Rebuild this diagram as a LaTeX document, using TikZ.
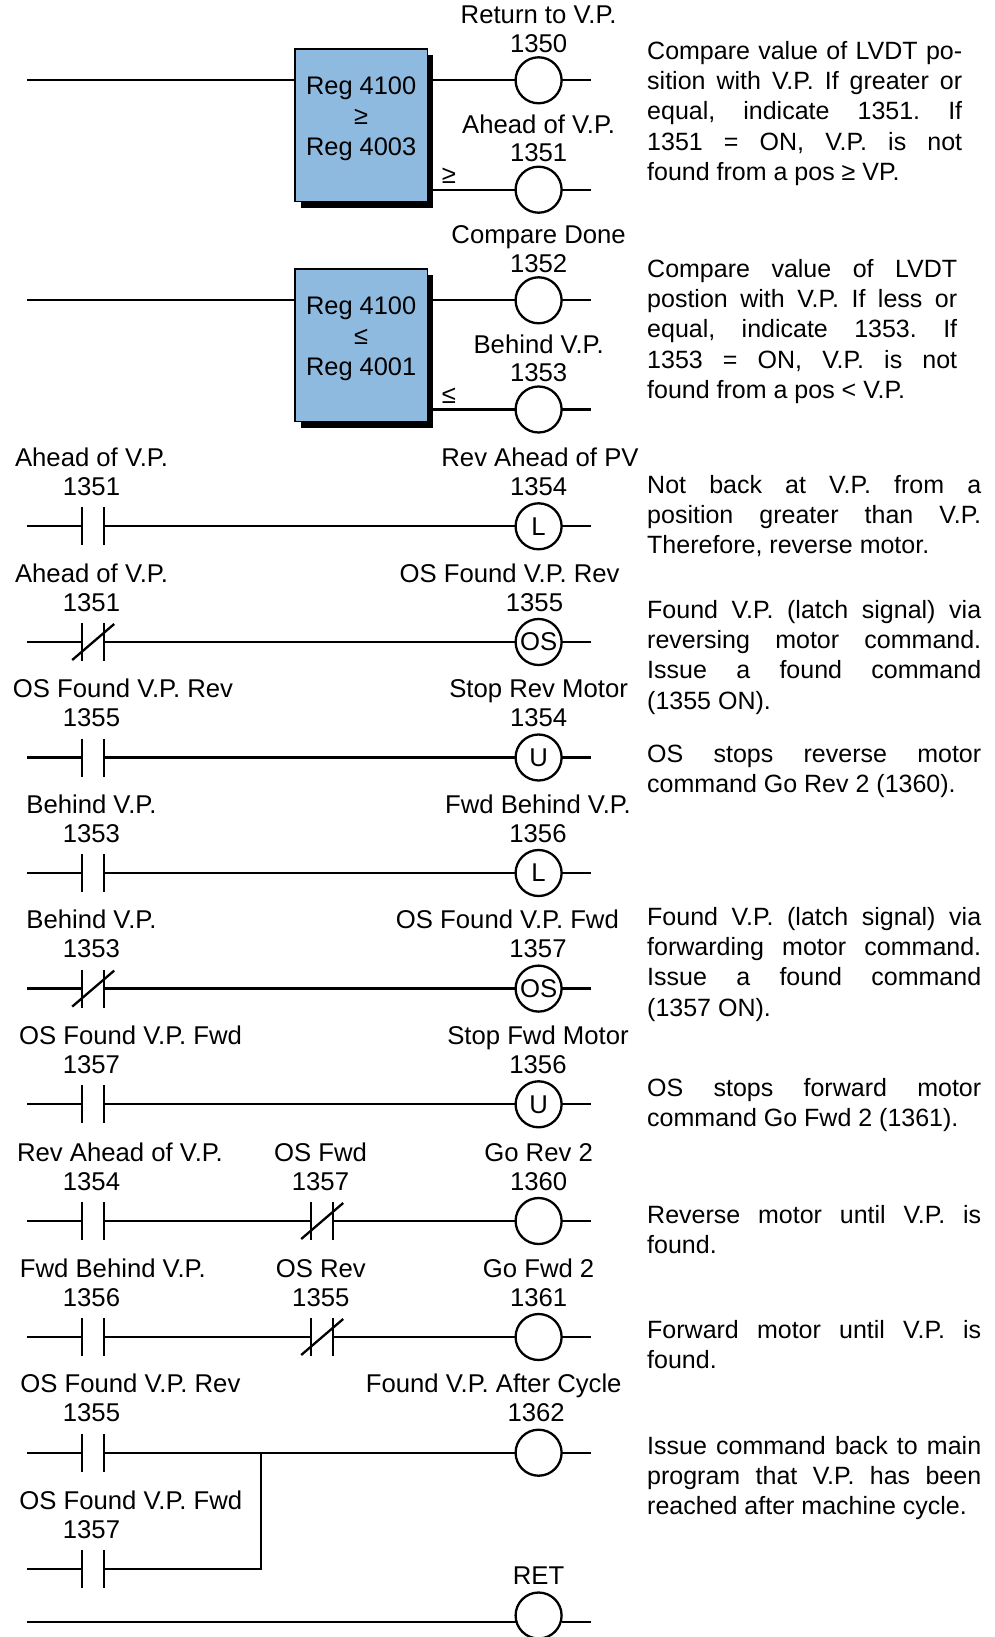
\documentclass[tikz,border=0pt]{standalone}
\usepackage{fontspec}
\setmainfont{Liberation Sans}
\usetikzlibrary{shadows,calc}
\definecolor{regblue}{RGB}{143,186,224}

\begin{document}
\begin{tikzpicture}[
    x=1pt, y=-1pt,
    wire/.style={line width=2.3pt},
    contact/.style={minimum width=22pt, minimum height=38pt, inner sep=0pt, outer sep=0pt,
                    append after command={(\tikzlastnode.north west) edge[wire] (\tikzlastnode.south west)
                    (\tikzlastnode.north east) edge[wire] (\tikzlastnode.south east)}},
    nccontact/.style={contact,
                    append after command={([shift={(-21,18)}]\tikzlastnode.center) edge[wire] ([shift={(21,-18)}]\tikzlastnode.center)}},
    coil/.style={draw, circle, line width=2.3pt, minimum size=46pt, inner sep=0pt, outer sep=0pt, font=\fontsize{25.7}{28}\selectfont},
    regbox/.style={draw, line width=1.5pt, fill=regblue, minimum width=132.5pt, minimum height=152.5pt, inner sep=0pt,
                   drop shadow={shadow xshift=6pt, shadow yshift=-6pt, fill=black, opacity=1}},
    regtext/.style={anchor=north, inner sep=0pt, align=center, font=\fontsize{25.4}{30.5}\selectfont},
    lab/.style={anchor=base, inner sep=0pt, font=\fontsize{25.7}{28}\selectfont},
    desc/.style={anchor=north west, inner sep=0pt, text width=334pt, align=justify,
                 font=\fontsize{25}{30.3}\selectfont,
                 execute at begin node={\tolerance=10000\relax\emergencystretch=50pt\relax\frenchspacing}}
]
    \useasboundingbox (0,0) rectangle (994,1637);

    % compare blocks
    \node[regbox] (cmpa) at (361.2,125.3) {};
    \node[regtext] (cmpatxt) at (361.2,76.5) {Reg 4100\\≥\\Reg 4003};
    \node[regbox] (cmpb) at (361.2,345.3) {};
    \node[regtext] (cmpbtxt) at (361.2,296.5) {Reg 4100\\≤\\Reg 4001};

    % coils
    \node[coil] (q50) at (538.6,80.3) {};
    \node[coil] (q51) at (538.6,189.7) {};
    \node[coil] (q52) at (538.6,300.3) {};
    \node[coil] (q53) at (538.6,409.5) {};
    \node[coil] (q54l) at (538.6,526.3) {L};
    \node[coil] (q55) at (538.6,642) {OS};
    \node[coil] (q54u) at (538.6,757.5) {U};
    \node[coil] (q56l) at (538.6,873) {L};
    \node[coil] (q57) at (538.6,988.6) {OS};
    \node[coil] (q56u) at (538.6,1104.3) {U};
    \node[coil] (q60) at (538.6,1221) {};
    \node[coil] (q61) at (538.6,1337) {};
    \node[coil] (q62) at (538.6,1452.7) {};
    \node[coil] (qret) at (538.6,1615.5) {};

    % contacts
    \node[contact] (a51) at (93.2,526.3) {};
    \node[nccontact] (b51) at (93.2,642) {};
    \node[contact] (a55) at (93.2,757.5) {};
    \node[contact] (a53) at (93.2,873) {};
    \node[nccontact] (b53) at (93.2,988.6) {};
    \node[contact] (a57) at (93.2,1104.3) {};
    \node[contact] (a54) at (93.2,1221) {};
    \node[nccontact] (b57) at (322.2,1221) {};
    \node[contact] (a56) at (93.2,1337) {};
    \node[nccontact] (b55) at (322.2,1337) {};
    \node[contact] (c55) at (93.2,1452.7) {};
    \node[contact] (c57) at (93.2,1569) {};

    % free ends of the rungs
    \coordinate (sa) at (27,80.3);
    \coordinate (sb) at (27,300.3);
    \coordinate (s5) at (27,526.3);
    \coordinate (s6) at (27,642);
    \coordinate (s7) at (27,757.5);
    \coordinate (s8) at (27,873);
    \coordinate (s9) at (27,988.6);
    \coordinate (s10) at (27,1104.3);
    \coordinate (s11) at (27,1221);
    \coordinate (s12) at (27,1337);
    \coordinate (s13) at (27,1452.7);
    \coordinate (s14) at (27,1569);
    \coordinate (s15) at (27,1622.3);
    \coordinate (e15) at (590.5,1622.3);
    \coordinate (join) at (260.7,1452.7);

    \draw[wire] (sa) -- (sa -| cmpa.west);
    \draw[wire] (q50 -| cmpa.east) -- (q50) -- ++(52,0);
    \draw[wire] (q51 -| cmpa.east) -- (q51) -- ++(52,0);
    \draw[wire] (sb) -- (sb -| cmpb.west);
    \draw[wire] (q52 -| cmpb.east) -- (q52) -- ++(52,0);
    \draw[wire] (q53 -| cmpb.east) -- (q53) -- ++(52,0);
    \draw[wire] (s5) -- (a51) -- (q54l) -- ++(52,0);
    \draw[wire] (s6) -- (b51) -- (q55) -- ++(52,0);
    \draw[wire] (s7) -- (a55) -- (q54u) -- ++(52,0);
    \draw[wire] (s8) -- (a53) -- (q56l) -- ++(52,0);
    \draw[wire] (s9) -- (b53) -- (q57) -- ++(52,0);
    \draw[wire] (s10) -- (a57) -- (q56u) -- ++(52,0);
    \draw[wire] (s11) -- (a54) -- (b57) -- (q60) -- ++(52,0);
    \draw[wire] (s12) -- (a56) -- (b55) -- (q61) -- ++(52,0);
    \draw[wire] (s13) -- (c55) -- (q62) -- ++(52,0);
    \draw[wire] (s14) -- (c57) -- (c57 -| join) -- (join);
    \draw[wire] (s15) -- (s15 -| qret.west);
    \draw[wire] (s15 -| qret.east) -- (e15);

    % labels of the first rungs
    \node[lab] (gea) at (449,183.5) {≥};
    \node[lab] (leb) at (449,403.5) {≤};
    \node[lab] (t50) at (538.6,24) {Return to V.P.};
    \node[lab] (n50) at (538.6,52.5) {1350};
    \node[lab] (t51) at (538.6,133.9) {Ahead of V.P.};
    \node[lab] (n51) at (538.6,161.9) {1351};
    \node[lab] (t52) at (538.6,243.8) {Compare Done};
    \node[lab] (n52) at (538.6,272.3) {1352};
    \node[lab] (t53) at (538.6,353.7) {Behind V.P.};
    \node[lab] (n53) at (538.6,381.7) {1353};

    % labels of the coils
    \node[lab] (t54l) at (540,466) {Rev Ahead of PV};
    \node[lab] (n54l) at (538.6,495) {1354};
    \node[lab] (t55) at (509.6,582) {OS Found V.P. Rev};
    \node[lab] (n55) at (534.5,611) {1355};
    \node[lab] (t54u) at (538.6,697.5) {Stop Rev Motor};
    \node[lab] (n54u) at (538.6,726) {1354};
    \node[lab] (t56l) at (538,813) {Fwd Behind V.P.};
    \node[lab] (n56l) at (538,842) {1356};
    \node[lab] (t57) at (507.4,928.6) {OS Found V.P. Fwd};
    \node[lab] (n57) at (538,957.6) {1357};
    \node[lab] (t56u) at (538,1044.3) {Stop Fwd Motor};
    \node[lab] (n56u) at (538,1073.3) {1356};
    \node[lab] (t60) at (538.6,1161) {Go Rev 2};
    \node[lab] (n60) at (538.6,1190) {1360};
    \node[lab] (t61) at (538.6,1277) {Go Fwd 2};
    \node[lab] (n61) at (538.6,1306) {1361};
    \node[lab] (t62) at (493.7,1392.7) {Found V.P. After Cycle};
    \node[lab] (n62) at (536.2,1421.7) {1362};
    \node[lab] (tret) at (538.6,1584) {RET};

    % labels of the contacts
    \node[lab] (ta51) at (91.5,466) {Ahead of V.P.};
    \node[lab] (na51) at (91.5,495) {1351};
    \node[lab] (tb51) at (91.5,582) {Ahead of V.P.};
    \node[lab] (nb51) at (91.5,611) {1351};
    \node[lab] (ta55) at (123,697.5) {OS Found V.P. Rev};
    \node[lab] (na55) at (91.5,726) {1355};
    \node[lab] (ta53) at (91.4,813) {Behind V.P.};
    \node[lab] (na53) at (91.4,842) {1353};
    \node[lab] (tb53) at (91.4,928.6) {Behind V.P.};
    \node[lab] (nb53) at (91.4,957.6) {1353};
    \node[lab] (ta57) at (130.5,1044.3) {OS Found V.P. Fwd};
    \node[lab] (na57) at (91.4,1073.3) {1357};
    \node[lab] (ta54) at (120,1161) {Rev Ahead of V.P.};
    \node[lab] (na54) at (91.5,1190) {1354};
    \node[lab] (tb57) at (320.5,1161) {OS Fwd};
    \node[lab] (nb57) at (320.5,1190) {1357};
    \node[lab] (ta56) at (112.8,1277) {Fwd Behind V.P.};
    \node[lab] (na56) at (91.5,1306) {1356};
    \node[lab] (tb55) at (320.8,1277) {OS Rev};
    \node[lab] (nb55) at (320.8,1306) {1355};
    \node[lab] (tc55) at (130.4,1392.7) {OS Found V.P. Rev};
    \node[lab] (nc55) at (91.5,1421.7) {1355};
    \node[lab] (tc57) at (130.8,1509) {OS Found V.P. Fwd};
    \node[lab] (nc57) at (91.5,1538) {1357};

    % notes on the right
    \node[desc, text width=315pt] (d1) at (647,41) {Compare value of LVDT po-\linebreak sition with V.P. If greater or\linebreak equal, indicate 1351. If\linebreak 1351 = ON, V.P. is not\linebreak found from a pos ≥ VP.};
    \node[desc, text width=310pt] (d2) at (647,259) {Compare value of LVDT\linebreak postion with V.P. If less or\linebreak equal, indicate 1353. If\linebreak 1353 = ON, V.P. is not\linebreak found from a pos < V.P.};
    \node[desc] (d3) at (647,475) {Not back at V.P. from a\linebreak position greater than V.P.\linebreak Therefore, reverse motor.};
    \node[desc] (d4) at (647,600) {Found V.P. (latch signal) via\linebreak reversing motor command.\linebreak Issue a found command\linebreak (1355 ON).};
    \node[desc] (d5) at (647,745) {OS stops reverse motor\linebreak command Go Rev 2 (1360).};
    \node[desc] (d6) at (647,907) {Found V.P. (latch signal) via\linebreak forwarding motor command.\linebreak Issue a found command\linebreak (1357 ON).};
    \node[desc] (d7) at (647,1078) {OS stops forward motor\linebreak command Go Fwd 2 (1361).};
    \node[desc] (d8) at (647,1205) {Reverse motor until V.P. is\linebreak found.};
    \node[desc] (d9) at (647,1320) {Forward motor until V.P. is\linebreak found.};
    \node[desc] (d10) at (647,1436) {Issue command back to main\linebreak program that V.P. has been\linebreak reached after machine cycle.};
\end{tikzpicture}
\end{document}
